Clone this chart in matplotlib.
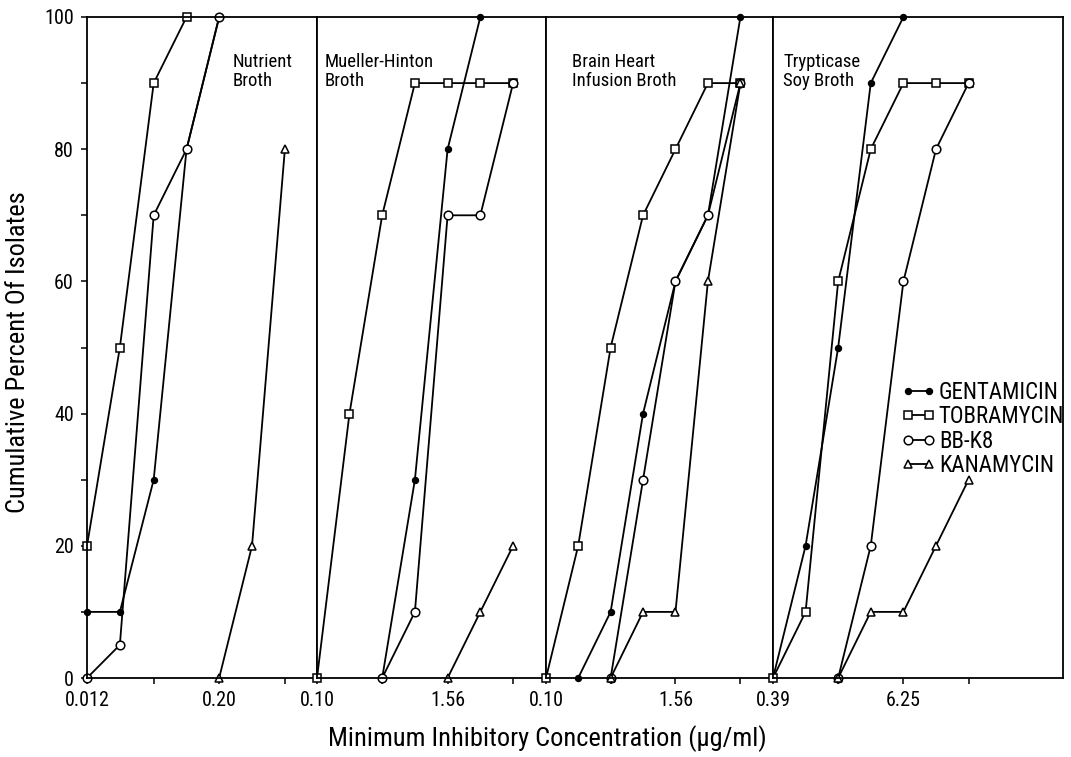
import numpy as np
import matplotlib.pyplot as plt
from matplotlib import font_manager
from matplotlib.ticker import NullLocator

# Prefer a condensed sans; fall back to Liberation Sans set a little smaller
fonts = font_manager.fontManager.ttflist
installed = {f.name for f in fonts}
size_scale = 1.0
for cand in ['Roboto Condensed', 'Liberation Sans Narrow', 'Open Sans Condensed']:
    if cand in installed:
        plt.rcParams['font.family'] = [cand, 'DejaVu Sans']
        break
else:
    plt.rcParams['font.family'] = ['Liberation Sans', 'DejaVu Sans']
    size_scale = 0.83

nan = np.nan

# Doubling dilution series (ug/ml) for each broth
nb_conc = [0.012, 0.024, 0.049, 0.098, 0.195, 0.39, 0.78]
mh_conc = [0.098, 0.195, 0.39, 0.78, 1.56, 3.12, 6.25]
bhi_conc = [0.098, 0.195, 0.39, 0.78, 1.56, 3.12, 6.25]
ts_conc = [0.39, 0.78, 1.56, 3.12, 6.25, 12.5, 25.0]
concentrations = [nb_conc, mh_conc, bhi_conc, ts_conc]

broths = ['Nutrient\nBroth', 'Mueller-Hinton\nBroth',
          'Brain Heart\nInfusion Broth', 'Trypticase\nSoy Broth']
tick_labels = [['0.012', '0.20'], ['0.10', '1.56'], ['0.10', '1.56'], ['0.39', '6.25']]

# Cumulative percent of isolates inhibited, one row per broth
gentamicin = [
    [10, 10, 30, 80, 100, nan, nan],
    [nan, nan, 0, 30, 80, 100, nan],
    [nan, 0, 10, 40, 60, 70, 100],
    [0, 20, 50, 90, 100, nan, nan],
]
tobramycin = [
    [20, 50, 90, 100, nan, nan, nan],
    [0, 40, 70, 90, 90, 90, 90],
    [0, 20, 50, 70, 80, 90, 90],
    [0, 10, 60, 80, 90, 90, 90],
]
bbk8 = [
    [0, 5, 70, 80, 100, nan, nan],
    [nan, nan, 0, 10, 70, 70, 90],
    [nan, nan, 0, 30, 60, 70, 90],
    [nan, nan, 0, 20, 60, 80, 90],
]
kanamycin = [
    [nan, nan, nan, nan, 0, 20, 80],
    [nan, nan, nan, nan, 0, 10, 20],
    [nan, nan, 0, 10, 10, 60, 90],
    [nan, nan, 0, 10, 10, 20, 30],
]

drugs = [
    ('GENTAMICIN', gentamicin, dict(marker='o', ms=4.2, mfc='black')),
    ('TOBRAMYCIN', tobramycin, dict(marker='s', ms=5.8, mfc='white')),
    ('BB-K8', bbk8, dict(marker='o', ms=6.2, mfc='white')),
    ('KANAMYCIN', kanamycin, dict(marker='^', ms=6.2, mfc='white')),
]

tick_fs = 14.5 * size_scale
legend_fs = 16.5 * size_scale
panel_fs = 13.5 * size_scale
axis_fs = 19 * size_scale

W, H = 1071, 757
fig = plt.figure(figsize=(W / 100, H / 100), dpi=100)

# panel edges in pixels and number of doublings shown in each
left_px = [87, 317, 546, 773]
right_px = [317, 546, 773, 1063]
span_steps = [7, 7, 7, 8.9]
bottom_px, top_px = 678, 17

for i in range(4):
    ax = fig.add_axes([left_px[i] / W, (H - bottom_px) / H,
                       (right_px[i] - left_px[i]) / W, (bottom_px - top_px) / H])
    conc = concentrations[i]
    ax.set_xscale('log', base=2)
    ax.set_xlim(conc[0], conc[0] * 2 ** span_steps[i])
    ax.set_ylim(0, 100)

    handles = []
    for name, values, style in drugs:
        line, = ax.plot(conc, values[i], color='black', lw=1.3, mec='black',
                        mew=1.1, label=name, clip_on=False, **style)
        handles.append(line)

    ticks = [conc[0], conc[2], conc[4], conc[6]]
    ax.set_xticks(ticks, [tick_labels[i][0], '', tick_labels[i][1], ''])
    ax.xaxis.set_minor_locator(NullLocator())
    ax.tick_params(axis='x', direction='out', length=4.5, width=1.1,
                   labelsize=tick_fs, pad=5)

    if i == 0:
        ax.set_yticks(range(0, 101, 20))
        ax.set_yticks(range(10, 100, 20), minor=True)
        ax.tick_params(axis='y', which='both', direction='out', length=4.5,
                       width=1.1, labelsize=tick_fs, pad=5)
    else:
        ax.tick_params(axis='y', which='both', left=False, labelleft=False)
        ax.yaxis.set_minor_locator(NullLocator())

    for sp in ax.spines.values():
        sp.set_linewidth(1.3)

    label_x = [(233 - 87) / 230, (325 - 317) / 229, (572 - 546) / 227, (783 - 773) / 290][i]
    ax.text(label_x, (bottom_px - 53) / (bottom_px - top_px), broths[i],
            transform=ax.transAxes, ha='left', va='top', fontsize=panel_fs,
            linespacing=1.1)

fig.legend(handles=handles, loc='upper left',
           bbox_to_anchor=(901 / W, (H - 381) / H), frameon=False,
           numpoints=2, handlelength=1.5, handletextpad=0.15,
           labelspacing=0.06, borderpad=0, borderaxespad=0, fontsize=legend_fs)

fig.text(18 / W, (H - 352) / H, 'Cumulative Percent Of Isolates',
         rotation=90, ha='center', va='center', fontsize=axis_fs)
fig.text(547 / W, (H - 739) / H, 'Minimum Inhibitory Concentration (\u00b5g/ml)',
         ha='center', va='center', fontsize=axis_fs)

fig.savefig('out.png', dpi=100)
